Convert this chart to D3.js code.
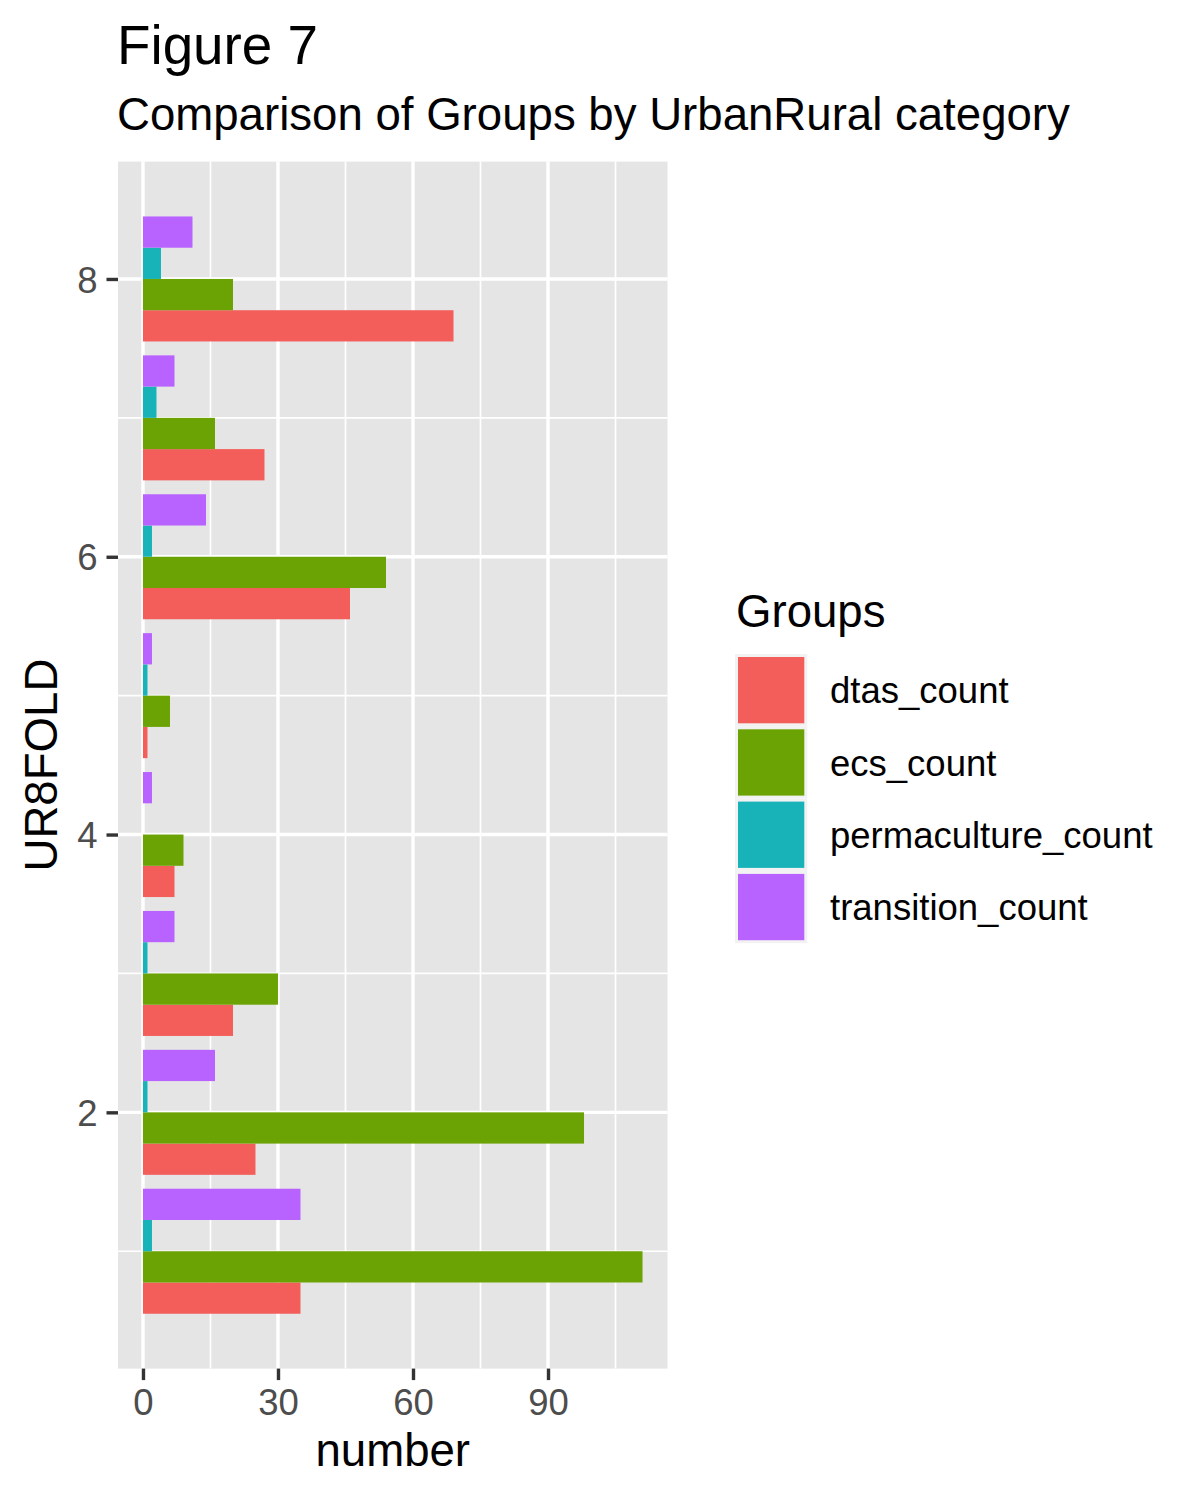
<!DOCTYPE html>
<html>
<head>
<meta charset="utf-8">
<script src="https://cdn.jsdelivr.net/npm/d3@7"></script>
<style>
  html, body { margin: 0; padding: 0; background: #ffffff; }
  svg { display: block; font-family: "Liberation Sans", Arial, Helvetica, sans-serif; }
</style>
</head>
<body>
<svg id="chart" width="1200" height="1500"></svg>
<script>
// ---- data ----
const categories = [1, 2, 3, 4, 5, 6, 7, 8];
const groups = ["dtas_count", "ecs_count", "permaculture_count", "transition_count"];
const dtasCount = [35, 25, 20, 7, 1, 46, 27, 69];
const ecsCount = [111, 98, 30, 9, 6, 54, 16, 20];
const permacultureCount = [2, 1, 1, 0, 1, 2, 3, 4];
const transitionCount = [35, 16, 7, 2, 2, 14, 7, 11];
const groupColors = ["#F35E5A", "#6BA304", "#18B3B8", "#B862FF"];
const xMajorTicks = [0, 30, 60, 90];
const xMinorTicks = [15, 45, 75, 105];
const yMajorTicks = [2, 4, 6, 8];
const yMinorTicks = [1, 3, 5, 7];
const titleText = "Figure 7";
const subtitleText = "Comparison of Groups by UrbanRural category";
const xTitle = "number";
const yTitle = "UR8FOLD";
const legendTitle = "Groups";

const seriesValues = [dtasCount, ecsCount, permacultureCount, transitionCount];
const rows = [];
categories.forEach((c, ci) => {
  groups.forEach((g, gi) => {
    rows.push({ cat: c, group: g, gi: gi, value: seriesValues[gi][ci] });
  });
});

// ---- layout ----
const panel = { left: 118, right: 667.5, top: 161.6, bottom: 1368.6 };
const svg = d3.select("#chart");

const maxV = d3.max(rows, d => d.value);
const xExp = maxV * 0.05;
const x = d3.scaleLinear().domain([-xExp, maxV + xExp]).range([panel.left, panel.right]);

const dodge = 0.9;
const yLo = d3.min(categories) - dodge / 2, yHi = d3.max(categories) + dodge / 2;
const yExp = (yHi - yLo) * 0.05;
const y = d3.scaleLinear().domain([yLo - yExp, yHi + yExp]).range([panel.bottom, panel.top]);

const color = d3.scaleOrdinal().domain(groups).range(groupColors);

// panel background
svg.append("rect")
  .attr("x", panel.left).attr("y", panel.top)
  .attr("width", panel.right - panel.left).attr("height", panel.bottom - panel.top)
  .attr("fill", "#E5E5E5");

const grid = svg.append("g");
// minor grid
grid.selectAll("line.xminor").data(xMinorTicks).enter().append("line")
  .attr("x1", d => x(d)).attr("x2", d => x(d))
  .attr("y1", panel.top).attr("y2", panel.bottom)
  .attr("stroke", "#ffffff").attr("stroke-width", 1.7);
grid.selectAll("line.yminor").data(yMinorTicks).enter().append("line")
  .attr("y1", d => y(d)).attr("y2", d => y(d))
  .attr("x1", panel.left).attr("x2", panel.right)
  .attr("stroke", "#ffffff").attr("stroke-width", 1.7);
// major grid
grid.selectAll("line.xmajor").data(xMajorTicks).enter().append("line")
  .attr("x1", d => x(d)).attr("x2", d => x(d))
  .attr("y1", panel.top).attr("y2", panel.bottom)
  .attr("stroke", "#ffffff").attr("stroke-width", 3.4);
grid.selectAll("line.ymajor").data(yMajorTicks).enter().append("line")
  .attr("y1", d => y(d)).attr("y2", d => y(d))
  .attr("x1", panel.left).attr("x2", panel.right)
  .attr("stroke", "#ffffff").attr("stroke-width", 3.4);

// bars
const bw = dodge / groups.length;
svg.append("g").selectAll("rect").data(rows).enter().append("rect")
  .attr("x", d => x(0))
  .attr("width", d => x(d.value) - x(0))
  .attr("y", d => y(d.cat - dodge / 2 + (d.gi + 1) * bw))
  .attr("height", d => y(d.cat - dodge / 2 + d.gi * bw) - y(d.cat - dodge / 2 + (d.gi + 1) * bw))
  .attr("fill", d => color(d.group));

// axes
const xAxis = d3.axisBottom(x).tickValues(xMajorTicks).tickSize(11.5).tickPadding(9).tickFormat(d3.format("d"));
const gx = svg.append("g").attr("transform", `translate(0,${panel.bottom})`).call(xAxis);
gx.select(".domain").remove();
gx.selectAll(".tick line").attr("stroke", "#333333").attr("stroke-width", 3.4);
gx.selectAll(".tick text").attr("fill", "#4D4D4D").style("font-size", "36.5px")
  .attr("dy", "0.72em").attr("y", 20.5);

const yAxis = d3.axisLeft(y).tickValues(yMajorTicks).tickSize(11.5).tickPadding(9).tickFormat(d3.format("d"));
const gy = svg.append("g").attr("transform", `translate(${panel.left},0)`).call(yAxis);
gy.select(".domain").remove();
gy.selectAll(".tick line").attr("stroke", "#333333").attr("stroke-width", 3.4);
gy.selectAll(".tick text").attr("fill", "#4D4D4D").style("font-size", "36.5px").attr("dy", "0.36em");

// axis titles
svg.append("text").attr("x", (panel.left + panel.right) / 2).attr("y", 1466)
  .attr("text-anchor", "middle").attr("fill", "#000").style("font-size", "45.6px").text(xTitle);
svg.append("text")
  .attr("transform", `translate(57,${(panel.top + panel.bottom) / 2}) rotate(-90)`)
  .attr("text-anchor", "middle").attr("fill", "#000").style("font-size", "45.6px").text(yTitle);

// titles
svg.append("text").attr("x", 117).attr("y", 64).attr("fill", "#000").style("font-size", "54.8px").text(titleText);
svg.append("text").attr("x", 117).attr("y", 130).attr("fill", "#000").style("font-size", "45.6px").text(subtitleText);

// legend
const lg = svg.append("g");
lg.append("text").attr("x", 736).attr("y", 627).attr("fill", "#000").style("font-size", "45.6px").text(legendTitle);
const keyTop = 654, keyPitch = 72.3, keyLeft = 735, keySize = 72.3;
const items = lg.selectAll("g.item").data(groups).enter().append("g")
  .attr("transform", (d, i) => `translate(${keyLeft},${keyTop + i * keyPitch})`);
items.append("rect").attr("x", 0).attr("y", 0).attr("width", keySize).attr("height", keySize).attr("fill", "#F2F2F2");
items.append("rect").attr("x", 3).attr("y", 3).attr("width", keySize - 6).attr("height", keySize - 6)
  .attr("fill", d => color(d));
items.append("text").attr("x", 95).attr("y", keySize / 2).attr("dy", "0.36em")
  .attr("fill", "#000").style("font-size", "36.5px").text(d => d);
</script>
</body>
</html>
